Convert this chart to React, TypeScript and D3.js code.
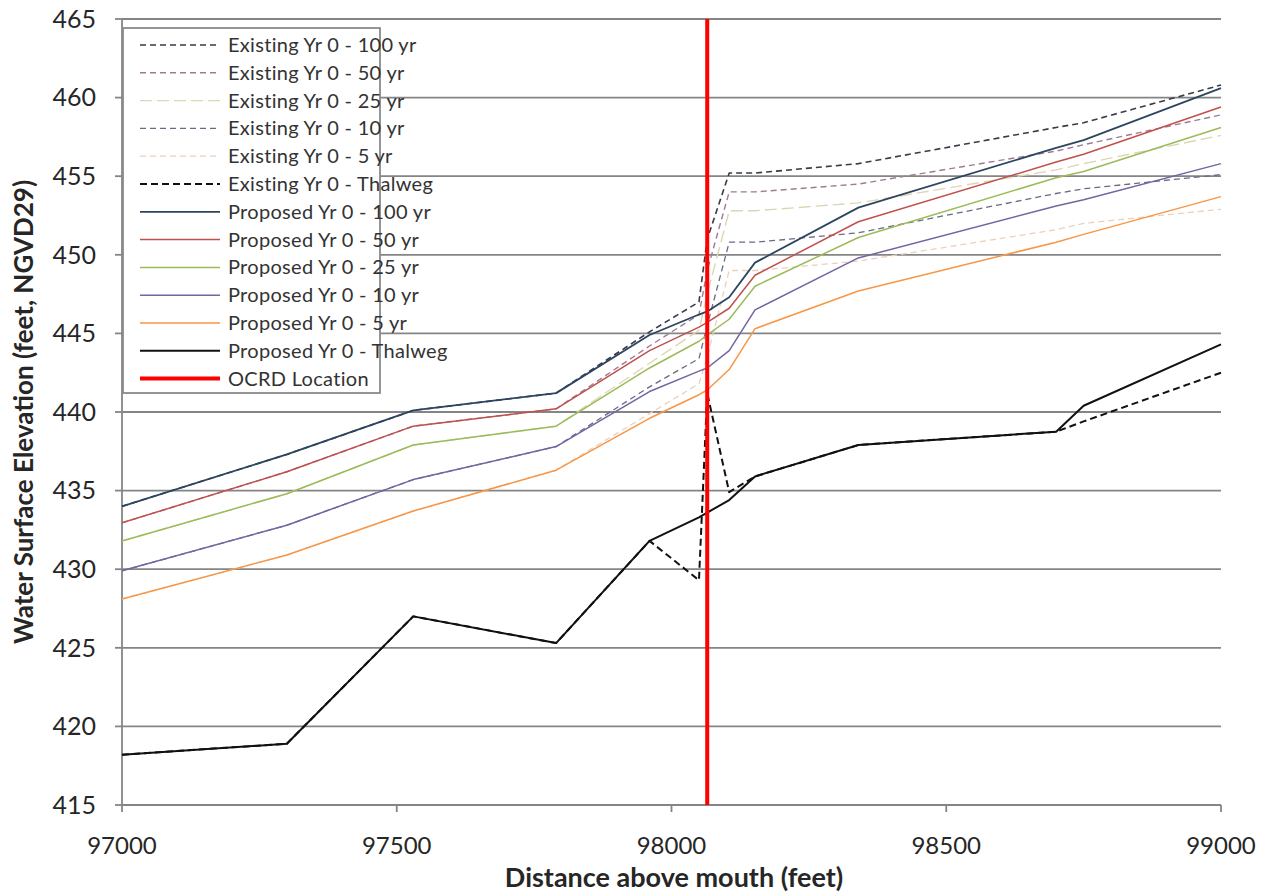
import React from 'react'
import * as d3 from 'd3'

// stations along the channel (feet above mouth)
const distance = [97000, 97300, 97530, 97790, 97960, 98050, 98065, 98105, 98152, 98340, 98700, 98750, 99000]

const existing100 = [434.0, 437.3, 440.1, 441.2, 445.1, 447.0, 451.0, 455.2, 455.2, 455.8, 458.1, 458.4, 460.8]
const existing50 = [432.95, 436.2, 439.1, 440.2, 444.2, 446.2, 449.0, 454.0, 454.0, 454.5, 456.6, 457.0, 458.9]
const existing25 = [431.8, 434.8, 437.9, 439.1, 443.1, 445.2, 447.5, 452.8, 452.8, 453.3, 455.4, 455.8, 457.6]
const existing10 = [429.9, 432.8, 435.7, 437.8, 441.6, 443.4, 445.5, 450.8, 450.8, 451.4, 453.9, 454.2, 455.1]
const existing5 = [428.1, 430.9, 433.7, 436.3, 439.9, 441.8, 443.5, 449.0, 449.0, 449.6, 451.6, 452.0, 452.9]
const existingThalweg = [418.2, 418.9, 427.0, 425.3, 431.8, 429.3, 441.2, 434.9, 435.9, 437.9, 438.75, 439.4, 442.5]

const proposed100 = [434.0, 437.3, 440.1, 441.2, 444.9, 446.2, 446.4, 447.3, 449.5, 453.0, 456.8, 457.3, 460.6]
const proposed50 = [432.95, 436.2, 439.1, 440.2, 443.9, 445.4, 445.7, 446.6, 448.7, 452.1, 455.9, 456.4, 459.4]
const proposed25 = [431.8, 434.8, 437.9, 439.1, 442.8, 444.5, 444.9, 445.9, 448.0, 451.1, 454.9, 455.3, 458.1]
const proposed10 = [429.9, 432.8, 435.7, 437.8, 441.3, 442.6, 442.8, 443.9, 446.5, 449.8, 453.1, 453.5, 455.8]
const proposed5 = [428.1, 430.9, 433.7, 436.3, 439.6, 441.1, 441.4, 442.7, 445.3, 447.7, 450.8, 451.3, 453.7]
const proposedThalweg = [418.2, 418.9, 427.0, 425.3, 431.8, 433.3, 433.6, 434.4, 435.9, 437.9, 438.75, 440.4, 444.3]

const ocrdLocation = 98065

const xTicks = [97000, 97500, 98000, 98500, 99000]
const yTicks = [415, 420, 425, 430, 435, 440, 445, 450, 455, 460, 465]

const series = [
  { name: 'Existing Yr 0 - 100 yr', values: existing100, color: '#3a3a48', width: 1.6, dash: '6 4' },
  { name: 'Existing Yr 0 - 50 yr', values: existing50, color: '#a07a94', width: 1.4, dash: '6 4' },
  { name: 'Existing Yr 0 - 25 yr', values: existing25, color: '#ddd6b4', width: 1.4, dash: '12 5' },
  { name: 'Existing Yr 0 - 10 yr', values: existing10, color: '#6a6a84', width: 1.3, dash: '6 4' },
  { name: 'Existing Yr 0 - 5 yr', values: existing5, color: '#ecd0bc', width: 1.3, dash: '6 4' },
  { name: 'Existing Yr 0 - Thalweg', values: existingThalweg, color: '#111111', width: 2, dash: '7 4' },
  { name: 'Proposed Yr 0 - 100 yr', values: proposed100, color: '#2e4560', width: 1.8, dash: null },
  { name: 'Proposed Yr 0 - 50 yr', values: proposed50, color: '#c0504d', width: 1.5, dash: null },
  { name: 'Proposed Yr 0 - 25 yr', values: proposed25, color: '#9bbb59', width: 1.5, dash: null },
  { name: 'Proposed Yr 0 - 10 yr', values: proposed10, color: '#7464a2', width: 1.5, dash: null },
  { name: 'Proposed Yr 0 - 5 yr', values: proposed5, color: '#f79646', width: 1.5, dash: null },
  { name: 'Proposed Yr 0 - Thalweg', values: proposedThalweg, color: '#111111', width: 2, dash: null }
]

const font = 'Lato, "Open Sans", sans-serif'

const App = () => {
  const width = 1270
  const height = 892
  const left = 122
  const right = 1221
  const top = 19
  const bottom = 805

  const x = d3.scaleLinear().domain([97000, 99000]).range([left, right])
  const y = d3.scaleLinear().domain([415, 465]).range([bottom, top])

  const line = d3
    .line<number>()
    .x((d, i) => x(distance[i]))
    .y((d) => y(d))

  const legendX = 123
  const legendY = 28
  const rowH = 27.8

  return (
    <svg
      width={width}
      height={height}
      style={{ position: 'absolute', left: 0, top: 0, background: '#fff' }}
      fontFamily={font}
    >
      {/* grid */}
      <g stroke="#858585" strokeWidth="1.8">
        {yTicks.map((t) => (
          <line key={t} x1={left} x2={right} y1={y(t)} y2={y(t)} />
        ))}
      </g>

      {/* axes */}
      <g stroke="#858585" strokeWidth="1.8">
        <line x1={left} x2={left} y1={top} y2={bottom} />
        {yTicks.map((t) => (
          <line key={t} x1={left - 7} x2={left} y1={y(t)} y2={y(t)} />
        ))}
        {xTicks.map((t) => (
          <line key={t} x1={x(t)} x2={x(t)} y1={bottom} y2={bottom + 7} />
        ))}
      </g>

      <g fontSize="25" fill="#262626" textAnchor="end">
        {yTicks.map((t) => (
          <text key={t} x={96} y={y(t)} dy="0.35em">
            {t}
          </text>
        ))}
      </g>
      <g fontSize="24" fill="#262626" textAnchor="middle">
        {xTicks.map((t) => (
          <text key={t} x={x(t)} y={854}>
            {t}
          </text>
        ))}
      </g>

      <text x={674} y={887} fontSize="27" fontWeight="bold" textAnchor="middle" fill="#262626">
        Distance above mouth (feet)
      </text>
      <text
        transform={`translate(33, ${412}) rotate(-90)`}
        fontSize="26"
        fontWeight="bold"
        textAnchor="middle"
        fill="#262626"
      >
        Water Surface Elevation  (feet, NGVD29)
      </text>

      {/* series */}
      {series.map((s) => (
        <path
          key={s.name}
          d={line(s.values) || ''}
          fill="none"
          stroke={s.color}
          strokeWidth={s.width}
          strokeDasharray={s.dash || undefined}
          strokeLinejoin="round"
        />
      ))}

      <line x1={x(ocrdLocation)} x2={x(ocrdLocation)} y1={top} y2={bottom} stroke="#ff0000" strokeWidth="4" />

      {/* legend */}
      <rect x={legendX} y={legendY} width={257} height={365} fill="#fff" stroke="#8a8a8a" strokeWidth="1.8" />
      {series.map((s, i) => (
        <g key={s.name} transform={`translate(0, ${45 + i * rowH})`}>
          <line
            x1={140}
            x2={220}
            stroke={s.color}
            strokeWidth={s.width}
            strokeDasharray={s.dash || undefined}
          />
          <text x={228} dy="0.35em" fontSize="20" letterSpacing="0.3" fill="#333">
            {s.name}
          </text>
        </g>
      ))}
      <g transform={`translate(0, ${45 + 12 * rowH})`}>
        <line x1={140} x2={220} stroke="#ff0000" strokeWidth="4" />
        <text x={228} dy="0.35em" fontSize="20" letterSpacing="0.3" fill="#333">
          OCRD Location
        </text>
      </g>
    </svg>
  )
}

export default App
